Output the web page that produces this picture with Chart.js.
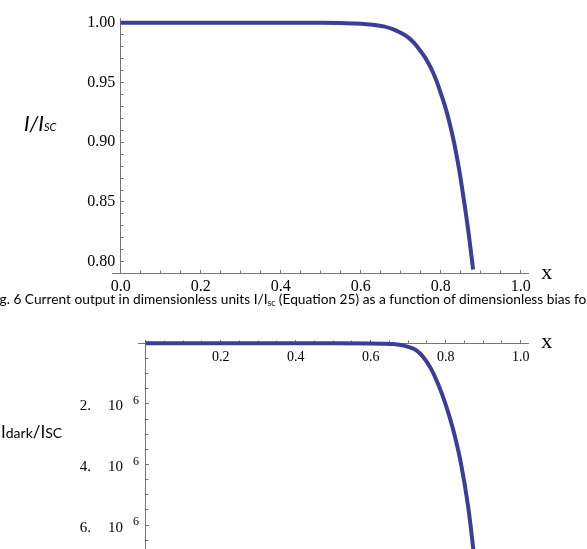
<!DOCTYPE html>
<html><head><meta charset="utf-8">
<script src="https://cdn.jsdelivr.net/npm/chart.js@4.4.1/dist/chart.umd.min.js"></script>
<style>
html,body{margin:0;padding:0;background:#fff;}
#wrap{position:relative;width:587px;height:549px;overflow:hidden;background:#fff;}
canvas{position:absolute;left:0;}
#c1{top:0;}
#c2{top:300px;}
.lbl{position:absolute;white-space:nowrap;color:#000;}
.serif{font-family:"Liberation Serif","Times New Roman",serif;}
.sans{font-family:Lato,"Open Sans",sans-serif;}
.sub{position:relative;top:0.22em;font-size:0.62em;}
</style></head>
<body><div id="wrap">
<canvas id="c1" width="587" height="300"></canvas>
<canvas id="c2" width="587" height="300"></canvas>
<div class="lbl serif" style="left:541.3px;top:260.9px;font-size:22px;line-height:22px;">x</div>
<div class="lbl serif" style="left:541.3px;top:329.9px;font-size:22px;line-height:22px;">x</div>
<div class="lbl sans" style="left:24px;top:112.1px;font-size:21px;line-height:21px;font-style:italic;">I/I<span style="font-size:11px">SC</span></div>
<div class="lbl sans" style="left:1px;top:422.5px;font-size:17px;line-height:17px;">I<span style="font-size:14px">dark</span>/I<span style="font-size:14px">SC</span></div>
<div class="lbl sans" id="cap" style="left:-0.5px;top:292px;font-size:14px;line-height:14px;"><span id="capA">g. 6 Current output in dimensionless units I/I<span class="sub">sc</span> (Equation 25) as a function of dimensionless bias </span>fo</div>
</div>
<script>
// ---- data ----
const xTop = [0, 0.1, 0.2, 0.3, 0.4, 0.5, 0.55, 0.6, 0.63, 0.66, 0.68, 0.70, 0.71, 0.72, 0.73, 0.74, 0.75, 0.76, 0.77, 0.78, 0.79, 0.80, 0.81, 0.82, 0.83, 0.84, 0.85, 0.86, 0.87, 0.881];
const yTop = [1, 1, 1, 1, 1, 0.9999, 0.9997, 0.9992, 0.9983, 0.9967, 0.9947, 0.9916, 0.9897, 0.9873, 0.9843, 0.9806, 0.9761, 0.9714, 0.9657, 0.9590, 0.9509, 0.9412, 0.9310, 0.9190, 0.9050, 0.8885, 0.8692, 0.8472, 0.8234, 0.7935];

const xBot = [0, 0.3, 0.5, 0.6, 0.63, 0.66, 0.68, 0.70, 0.72, 0.74, 0.76, 0.78, 0.80, 0.82, 0.84, 0.86, 0.875, 0.89];
const yBot = [0, 0, -0.001e-6, -0.006e-6, -0.012e-6, -0.025e-6, -0.055e-6, -0.115e-6, -0.22e-6, -0.45e-6, -0.82e-6, -1.35e-6, -2.02e-6, -2.85e-6, -3.92e-6, -5.40e-6, -6.95e-6, -8.80e-6];

// tick definitions
const topXMajorStep = 0.2, topXMinorStep = 0.05;
const topYMajorStep = 0.05, topYMinorStep = 0.01;
const botXMajorStep = 0.2, botXMinorStep = 0.05;
const botYMajorStep = 2e-6, botYMinorStep = 0.5e-6;
const botYTicks = [-2e-6, -4e-6, -6e-6];
const botYMantissa = ['2.', '4.', '6.'];
const botYBase = '10';
const botYExponent = '6';

// ---- styling ----
const AXIS = '#747474';
const LINE = 'rgb(60,60,153)';
const SERIF = '"Liberation Serif","Times New Roman",serif';
const TOP_YMIN = 0.79033, TOP_YMAX = 1.0037;

function pts(xs, ys){ return xs.map((x, i) => ({x: x, y: ys[i]})); }

function scale(axis, min, max, pos, step, tickLen, showBorder, ticksExtra){
  return {
    type: 'linear', axis: axis, min: min, max: max, position: pos,
    ticks: Object.assign({stepSize: step, includeBounds: false, autoSkip: false, maxTicksLimit: 1000,
      maxRotation: 0, minRotation: 0, color: '#000'}, ticksExtra),
    grid: {drawOnChartArea: false, tickLength: tickLen, tickColor: AXIS, tickWidth: 1},
    border: {display: showBorder, color: AXIS, width: 1}
  };
}

const common = {
  responsive: false, maintainAspectRatio: false, animation: false, devicePixelRatio: 1,
  events: [],
  plugins: {legend: {display: false}, tooltip: {enabled: false}, title: {display: false}}
};

new Chart(document.getElementById('c1'), {
  type: 'line',
  data: {datasets: [{data: pts(xTop, yTop), borderColor: LINE, borderWidth: 4, pointRadius: 0,
    cubicInterpolationMode: 'monotone', fill: false, clip: false}]},
  options: Object.assign({}, common, {
    layout: {padding: {left: 112.7, right: 58.3, top: 18.3, bottom: 26.7}},
    scales: {
      x: scale('x', -0.02, 1.02, {y: TOP_YMIN}, topXMajorStep, -4, true,
        {padding: 7.7, font: {family: SERIF, size: 16}, callback: v => v.toFixed(1)}),
      xm: scale('x', -0.02, 1.02, {y: TOP_YMIN}, topXMinorStep, -2.5, false, {display: false}),
      y: scale('y', TOP_YMIN, TOP_YMAX, {x: 0}, topYMajorStep, -4, true,
        {font: {family: SERIF, size: 16}, callback: v => v.toFixed(2) + ' \u200A'}),
      ym: scale('y', TOP_YMIN, TOP_YMAX, {x: 0}, topYMinorStep, -2.5, false, {display: false})
    }
  })
});

const expLabels = {
  id: 'expLabels',
  afterDraw(chart){
    const xs = chart.scales.x.getPixelForValue(0);
    const ys = chart.scales.y;
    const ctx = chart.ctx;
    ctx.save();
    ctx.fillStyle = '#000';
    ctx.textAlign = 'right';
    ctx.textBaseline = 'alphabetic';
    botYTicks.forEach((v, i) => {
      const py = ys.getPixelForValue(v);
      ctx.font = '15px ' + SERIF;
      ctx.fillText(botYMantissa[i], xs - 54.6, py + 6.4);
      ctx.fillText(botYBase, xs - 22.6, py + 6.4);
      ctx.font = '12px ' + SERIF;
      ctx.fillText(botYExponent, xs - 6.6, py);
    });
    ctx.restore();
  }
};

new Chart(document.getElementById('c2'), {
  type: 'line',
  data: {datasets: [{data: pts(xBot, yBot), borderColor: LINE, borderWidth: 4, pointRadius: 0,
    cubicInterpolationMode: 'monotone', fill: false, clip: false}]},
  options: Object.assign({}, common, {
    layout: {padding: {left: 138.2, right: 58.8, top: 43.3, bottom: 14.3}},
    scales: {
      x: scale('x', -0.02, 1.02, {y: 0}, botXMajorStep, -4, true,
        {padding: 9.5, font: {family: SERIF, size: 14}, callback: v => Math.abs(v) < 1e-9 ? '' : v.toFixed(1)}),
      xm: scale('x', -0.02, 1.02, {y: 0}, botXMinorStep, -2.5, false, {display: false}),
      y: scale('y', -8e-6, 0, {x: 0}, botYMajorStep, -4, true, {display: false}),
      ym: scale('y', -8e-6, 0, {x: 0}, botYMinorStep, -2.5, false, {display: false})
    }
  }),
  plugins: [expLabels]
});

function fitCaption(){
  const cap = document.getElementById('cap');
  const a = document.getElementById('capA');
  cap.style.fontSize = '14px';
  const w = a.getBoundingClientRect().width;
  const fs = 14 * 575 / w;
  cap.style.fontSize = fs + 'px';
  cap.style.lineHeight = fs + 'px';
  cap.style.top = (304.3 - 0.887 * fs) + 'px';
}
fitCaption();
if (document.fonts && document.fonts.ready) document.fonts.ready.then(fitCaption);
</script>
</body></html>
